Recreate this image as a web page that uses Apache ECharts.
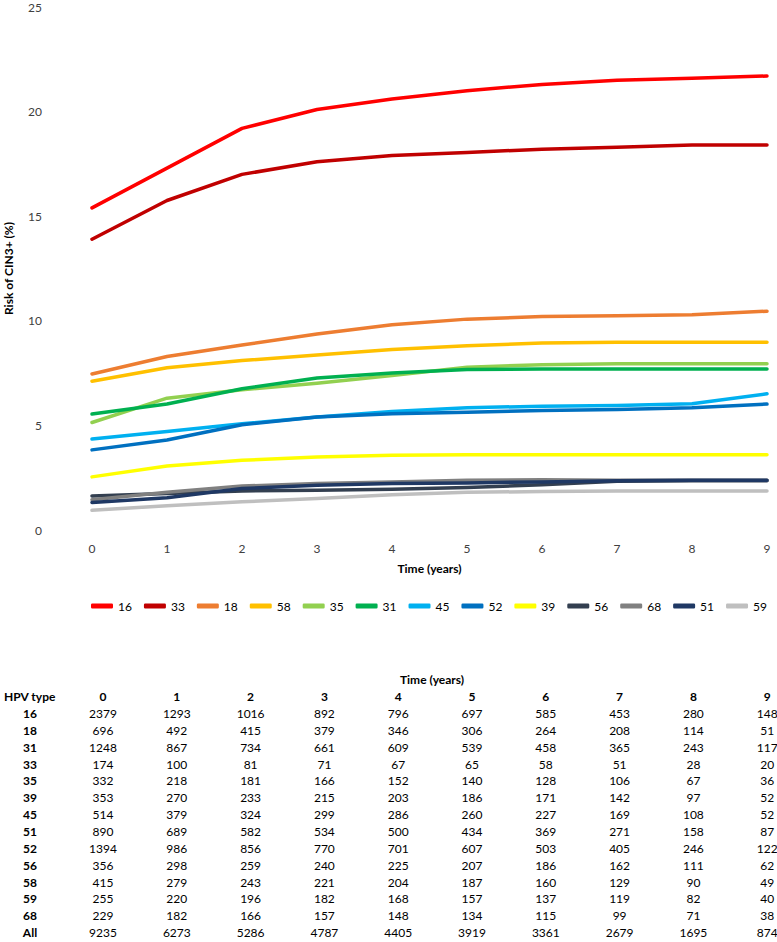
<!DOCTYPE html>
<html>
<head>
<meta charset="utf-8">
<script src="https://cdn.jsdelivr.net/npm/echarts@6/dist/echarts.min.js"></script>
<style>
  html, body { margin: 0; padding: 0; background: #fff; }
  #wrap { position: relative; width: 777px; height: 942px; overflow: hidden; }
  #chart { position: absolute; left: 0; top: 0; width: 777px; height: 942px; }
  #table { position: absolute; left: 0; top: 0; width: 777px; height: 942px; pointer-events: none;
           font-family: Lato, "Open Sans", sans-serif; font-size: 12px; color: #000; }
  .cell { position: absolute; width: 70px; text-align: center; line-height: 16px; height: 16px; white-space: nowrap; }
  .b { font-weight: bold; }
</style>
</head>
<body>
<div id="wrap">
  <div id="chart"></div>
  <div id="table"></div>
</div>
<script>
// ---- chart data ----
const years = ['0', '1', '2', '3', '4', '5', '6', '7', '8', '9'];
const seriesNames = ['16', '33', '18', '58', '35', '31', '45', '52', '39', '56', '68', '51', '59'];
const seriesColors = ['#FF0000', '#C00000', '#ED7D31', '#FFC000', '#92D050', '#00B050', '#00B0F0', '#0070C0', '#FFFF00', '#333F50', '#808080', '#1F3864', '#BFBFBF'];
const s16 = [15.4, 17.3, 19.2, 20.1, 20.6, 21.0, 21.3, 21.5, 21.6, 21.7];
const s33 = [13.9, 15.75, 17.0, 17.6, 17.9, 18.05, 18.2, 18.3, 18.4, 18.4];
const s18 = [7.46, 8.29, 8.84, 9.37, 9.81, 10.08, 10.2, 10.24, 10.29, 10.46];
const s58 = [7.11, 7.76, 8.10, 8.37, 8.63, 8.81, 8.94, 8.97, 8.97, 8.97];
const s35 = [5.14, 6.30, 6.70, 7.02, 7.38, 7.78, 7.90, 7.95, 7.95, 7.95];
const s31 = [5.54, 6.02, 6.75, 7.27, 7.51, 7.67, 7.70, 7.70, 7.70, 7.70];
const s45 = [4.35, 4.71, 5.08, 5.40, 5.67, 5.84, 5.92, 5.95, 6.03, 6.51];
const s52 = [3.83, 4.30, 5.03, 5.40, 5.56, 5.63, 5.71, 5.76, 5.84, 6.02];
const s39 = [2.54, 3.06, 3.33, 3.49, 3.57, 3.60, 3.60, 3.60, 3.60, 3.60];
const s56 = [1.63, 1.75, 1.87, 1.90, 1.95, 2.03, 2.16, 2.33, 2.36, 2.36];
const s68 = [1.45, 1.80, 2.10, 2.22, 2.30, 2.38, 2.40, 2.38, 2.38, 2.38];
const s51 = [1.32, 1.54, 1.98, 2.14, 2.22, 2.25, 2.30, 2.35, 2.38, 2.38];
const s59 = [0.94, 1.16, 1.35, 1.51, 1.68, 1.80, 1.84, 1.86, 1.87, 1.87];
const seriesValues = [s16, s33, s18, s58, s35, s31, s45, s52, s39, s56, s68, s51, s59];
const yTicks = ['0', '5', '10', '15', '20', '25'];

// ---- table data ----
const tableTitle = 'Time (years)';
const tableHeaderLabel = 'HPV type';
const tableColumns = ['0', '1', '2', '3', '4', '5', '6', '7', '8', '9'];
const tableTypes = ['16', '18', '31', '33', '35', '39', '45', '51', '52', '56', '58', '59', '68', 'All'];
const n16 = [2379, 1293, 1016, 892, 796, 697, 585, 453, 280, 148];
const n18 = [696, 492, 415, 379, 346, 306, 264, 208, 114, 51];
const n31 = [1248, 867, 734, 661, 609, 539, 458, 365, 243, 117];
const n33 = [174, 100, 81, 71, 67, 65, 58, 51, 28, 20];
const n35 = [332, 218, 181, 166, 152, 140, 128, 106, 67, 36];
const n39 = [353, 270, 233, 215, 203, 186, 171, 142, 97, 52];
const n45 = [514, 379, 324, 299, 286, 260, 227, 169, 108, 52];
const n51 = [890, 689, 582, 534, 500, 434, 369, 271, 158, 87];
const n52 = [1394, 986, 856, 770, 701, 607, 503, 405, 246, 122];
const n56 = [356, 298, 259, 240, 225, 207, 186, 162, 111, 62];
const n58 = [415, 279, 243, 221, 204, 187, 160, 129, 90, 49];
const n59 = [255, 220, 196, 182, 168, 157, 137, 119, 82, 40];
const n68 = [229, 182, 166, 157, 148, 134, 115, 99, 71, 38];
const nAll = [9235, 6273, 5286, 4787, 4405, 3919, 3361, 2679, 1695, 874];
const tableRows = [n16, n18, n31, n33, n35, n39, n45, n51, n52, n56, n58, n59, n68, nAll];

// ---- chart ----
const FONT = 'Lato, "Open Sans", sans-serif';
const chart = echarts.init(document.getElementById('chart'), null, { renderer: 'svg' });
chart.setOption({
  animation: false,
  backgroundColor: '#fff',
  textStyle: { fontFamily: FONT },
  grid: { left: 92, right: 10, top: 7, bottom: 412, containLabel: false, outerBoundsMode: 'none' },
  xAxis: {
    type: 'category',
    data: years,
    boundaryGap: false,
    axisLine: { show: false },
    axisTick: { show: false },
    splitLine: { show: false },
    axisLabel: { color: '#404040', fontSize: 12, margin: 12, fontFamily: FONT },
    name: 'Time (years)',
    nameLocation: 'middle',
    nameGap: 32,
    nameTextStyle: { color: '#000', fontSize: 12, fontWeight: 'bold', fontFamily: FONT }
  },
  yAxis: {
    type: 'value',
    min: 0, max: 25, interval: 5,
    axisLine: { show: false },
    axisTick: { show: false },
    splitLine: { show: false },
    axisLabel: {
      color: '#404040', fontSize: 12, margin: 50, fontFamily: FONT,
      formatter: function (v) { return yTicks[Math.round(v / 5)]; }
    },
    name: 'Risk of CIN3+ (%)',
    nameLocation: 'middle',
    nameRotate: 90,
    nameGap: 78,
    nameTextStyle: { color: '#000', fontSize: 12, fontWeight: 'bold', fontFamily: FONT }
  },
  legend: {
    left: 86, right: 0, top: 595,
    icon: 'roundRect',
    itemWidth: 22, itemHeight: 5,
    itemGap: 12,
    textStyle: { color: '#000', fontSize: 12, fontFamily: FONT },
    data: seriesNames
  },
  series: seriesNames.map(function (name, i) {
    return {
      name: name,
      type: 'line',
      data: seriesValues[i],
      showSymbol: false,
      symbol: 'none',
      color: seriesColors[i],
      lineStyle: { width: 3.5, color: seriesColors[i], cap: 'round', join: 'round' },
      emphasis: { disabled: true },
      z: 2 + i
    };
  })
});

// ---- table (HTML text) ----
const tableEl = document.getElementById('table');
const labelX = 30;
const colX0 = 103, colStep = 73.8;
const titleY = 680, headerY = 697, rowY0 = 714, rowStep = 16.85;
function addCell(text, cx, cy, bold, align) {
  const d = document.createElement('div');
  d.className = 'cell' + (bold ? ' b' : '');
  d.textContent = text;
  if (align === 'left') {
    d.style.left = cx + 'px';
    d.style.textAlign = 'left';
  } else {
    d.style.left = (cx - 35) + 'px';
  }
  d.style.top = (cy - 8) + 'px';
  tableEl.appendChild(d);
}
addCell(tableTitle, 432, titleY, true);
addCell(tableHeaderLabel, 4, headerY, true, 'left');
tableColumns.forEach(function (c, j) { addCell(c, colX0 + colStep * j, headerY, true); });
tableTypes.forEach(function (t, i) {
  const y = rowY0 + rowStep * i;
  addCell(t, labelX, y, true);
  tableRows[i].forEach(function (v, j) { addCell(String(v), colX0 + colStep * j, y, false); });
});
</script>
</body>
</html>
